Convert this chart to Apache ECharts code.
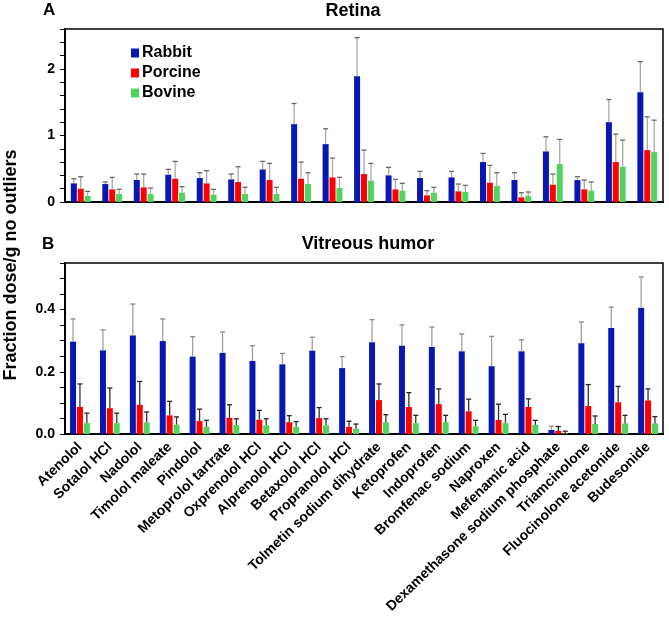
<!DOCTYPE html>
<html lang="en">
<head>
    <meta charset="UTF-8">
    <title>Retina / Vitreous humor</title>
    <script src="https://cdn.jsdelivr.net/npm/echarts@6.0.0/dist/echarts.min.js"></script>
    <style>
        html, body { margin: 0; padding: 0; background: #fff; }
        #container { width: 669px; height: 617px; }
    </style>
</head>
<body>
<div id="container"></div>

<script type="text/javascript">
    // categories of panel B (vitreous humor), shown as x labels
    var drugs = ['Atenolol', 'Sotalol HCl', 'Nadolol', 'Timolol maleate', 'Pindolol',
        'Metoprolol tartrate', 'Oxprenolol HCl', 'Alprenolol HCl', 'Betaxolol HCl', 'Propranolol HCl',
        'Tolmetin sodium dihydrate', 'Ketoprofen', 'Indoprofen', 'Bromfenac sodium', 'Naproxen',
        'Mefenamic acid', 'Dexamethasone sodium phosphate', 'Triamcinolone', 'Fluocinolone acetonide', 'Budesonide'];

    // panel A (retina) only has 19 groups, no labels drawn
    var retinaDrugs = ['Atenolol', 'Sotalol HCl', 'Nadolol', 'Timolol maleate', 'Pindolol',
        'Metoprolol tartrate', 'Oxprenolol HCl', 'Alprenolol HCl', 'Betaxolol HCl', 'Propranolol HCl',
        'Tolmetin sodium dihydrate', 'Ketoprofen', 'Indoprofen', 'Bromfenac sodium', 'Naproxen',
        'Mefenamic acid', 'Triamcinolone', 'Fluocinolone acetonide', 'Budesonide'];

    var speciesNames = ['Rabbit', 'Porcine', 'Bovine'];

    // retina: mean and top of error bar
    var retinaRabbit = [0.28, 0.27, 0.33, 0.41, 0.36, 0.34, 0.49, 1.17, 0.87, 1.89, 0.40, 0.36, 0.37, 0.60, 0.33, 0.76, 0.33, 1.20, 1.65];
    var retinaRabbitErr = [0.35, 0.30, 0.42, 0.49, 0.44, 0.42, 0.61, 1.48, 1.10, 2.47, 0.52, 0.46, 0.46, 0.73, 0.44, 0.98, 0.38, 1.54, 2.11];
    var retinaPorcine = [0.20, 0.19, 0.22, 0.35, 0.28, 0.30, 0.33, 0.35, 0.37, 0.42, 0.19, 0.10, 0.16, 0.29, 0.07, 0.26, 0.19, 0.60, 0.78];
    var retinaPorcineErr = [0.38, 0.37, 0.42, 0.61, 0.47, 0.53, 0.58, 0.60, 0.66, 0.78, 0.34, 0.17, 0.27, 0.55, 0.14, 0.42, 0.33, 1.02, 1.28];
    var retinaBovine = [0.09, 0.12, 0.12, 0.14, 0.11, 0.12, 0.12, 0.27, 0.21, 0.32, 0.17, 0.14, 0.15, 0.24, 0.09, 0.57, 0.17, 0.53, 0.75];
    var retinaBovineErr = [0.16, 0.19, 0.21, 0.23, 0.19, 0.22, 0.22, 0.44, 0.37, 0.58, 0.28, 0.22, 0.25, 0.44, 0.15, 0.94, 0.30, 0.93, 1.23];

    // vitreous humor
    var vitRabbit = [0.297, 0.269, 0.317, 0.299, 0.249, 0.261, 0.235, 0.224, 0.268, 0.212, 0.295, 0.284, 0.280, 0.266, 0.218, 0.266, 0.013, 0.292, 0.341, 0.406];
    var vitRabbitErr = [0.370, 0.335, 0.418, 0.370, 0.313, 0.328, 0.284, 0.259, 0.311, 0.249, 0.368, 0.351, 0.344, 0.322, 0.314, 0.303, 0.025, 0.360, 0.408, 0.505];
    var vitPorcine = [0.087, 0.083, 0.094, 0.060, 0.042, 0.052, 0.046, 0.038, 0.051, 0.023, 0.109, 0.087, 0.096, 0.073, 0.045, 0.087, 0.010, 0.090, 0.102, 0.108];
    var vitPorcineErr = [0.161, 0.148, 0.169, 0.105, 0.080, 0.094, 0.076, 0.059, 0.085, 0.041, 0.161, 0.133, 0.145, 0.112, 0.096, 0.113, 0.024, 0.159, 0.153, 0.145];
    var vitBovine = [0.035, 0.035, 0.037, 0.030, 0.023, 0.029, 0.028, 0.023, 0.028, 0.017, 0.038, 0.035, 0.038, 0.025, 0.035, 0.030, 0.002, 0.032, 0.034, 0.034];
    var vitBovineErr = [0.067, 0.067, 0.071, 0.055, 0.044, 0.049, 0.049, 0.040, 0.049, 0.032, 0.062, 0.060, 0.060, 0.044, 0.063, 0.044, 0.009, 0.058, 0.060, 0.056];

    var colors = ['#0a16b2', '#ff0000', '#4fd45f'];
    var font = 'Liberation Sans, Arial, sans-serif';
    var barW = 6;
    var gapPx = 0.9;

    var chart = echarts.init(document.getElementById('container'), null, {renderer: 'canvas'});

    function errData(vals, tops) {
        var out = [];
        for (var i = 0; i < vals.length; i++) {
            out.push([i, vals[i], tops[i]]);
        }
        return out;
    }

    // error bar: line from bar top up to tops[i], with a small cap
    function errSeries(name, grid, k, vals, tops, lineColor, capColor) {
        return {
            name: name,
            type: 'custom',
            xAxisIndex: grid,
            yAxisIndex: grid,
            z: 5,
            data: errData(vals, tops),
            renderItem: function (params, api) {
                var p0 = api.coord([api.value(0), api.value(1)]);
                var p1 = api.coord([api.value(0), api.value(2)]);
                var cx = p0[0] + (k - 1) * (barW + gapPx);
                return {
                    type: 'group',
                    children: [{
                        type: 'line',
                        shape: {x1: cx, y1: p0[1], x2: cx, y2: p1[1]},
                        style: {stroke: lineColor, lineWidth: 1.3}
                    }, {
                        type: 'line',
                        shape: {x1: cx - 2.5, y1: p1[1], x2: cx + 2.5, y2: p1[1]},
                        style: {stroke: capColor, lineWidth: 1.3}
                    }]
                };
            }
        };
    }

    function barSeries(name, grid, k, vals) {
        return {
            name: name,
            type: 'bar',
            xAxisIndex: grid,
            yAxisIndex: grid,
            data: vals,
            barWidth: barW,
            barGap: '15%',
            itemStyle: {color: colors[k]}
        };
    }

    var labelStyle = {color: '#000', fontFamily: font, fontWeight: 'bold', fontSize: 14};

    var option = {
        animation: false,
        backgroundColor: '#fff',
        textStyle: {fontFamily: font},
        legend: {
            data: speciesNames,
            orient: 'vertical',
            left: 126,
            top: 40,
            itemWidth: 8,
            itemHeight: 9,
            itemGap: 4,
            icon: 'rect',
            textStyle: {color: '#000', fontFamily: font, fontWeight: 'bold', fontSize: 16, padding: [0, 0, 0, -2]}
        },
        grid: [
            {left: 65, right: 6, top: 29, height: 173, show: true, borderColor: '#000', borderWidth: 1.5},
            {left: 65, right: 6, top: 263, height: 171, show: true, borderColor: '#000', borderWidth: 1.5}
        ],
        xAxis: [{
            type: 'category',
            gridIndex: 0,
            data: retinaDrugs,
            axisLine: {lineStyle: {color: '#000', width: 2}},
            axisTick: {show: false},
            axisLabel: {show: false}
        }, {
            type: 'category',
            gridIndex: 1,
            data: drugs,
            axisLine: {lineStyle: {color: '#000', width: 2}},
            axisTick: {show: false},
            axisLabel: {
                interval: 0,
                rotate: 44,
                margin: 11,
                color: '#000',
                fontFamily: font,
                fontWeight: 'bold',
                fontSize: 14
            }
        }],
        yAxis: [{
            type: 'value',
            gridIndex: 0,
            min: 0,
            max: 2.6,
            interval: 0.2,
            splitLine: {show: false},
            axisLine: {show: true, lineStyle: {color: '#000', width: 2}},
            axisTick: {show: true, length: 5, lineStyle: {color: '#000'}},
            axisLabel: Object.assign({
                margin: 10,
                formatter: function (v) {
                    return Math.abs(v - Math.round(v)) < 1e-6 ? String(Math.round(v)) : '';
                }
            }, labelStyle)
        }, {
            type: 'value',
            gridIndex: 1,
            min: 0,
            max: 0.55,
            interval: 0.05,
            splitLine: {show: false},
            axisLine: {show: true, lineStyle: {color: '#000', width: 2}},
            axisTick: {show: true, length: 5, lineStyle: {color: '#000'}},
            axisLabel: Object.assign({
                margin: 10,
                formatter: function (v) {
                    return Math.abs(v * 5 - Math.round(v * 5)) < 1e-6 ? v.toFixed(1) : '';
                }
            }, labelStyle)
        }],
        graphic: [
            {type: 'text', left: 43, top: 2, style: {text: 'A', font: 'bold 17px ' + font, fill: '#000'}},
            {type: 'text', x: 353, y: 11, style: {text: 'Retina', font: 'bold 18px ' + font, fill: '#000', textAlign: 'center', textVerticalAlign: 'middle'}},
            {type: 'text', left: 42, top: 236, style: {text: 'B', font: 'bold 17px ' + font, fill: '#000'}},
            {type: 'text', x: 368, y: 244, style: {text: 'Vitreous humor', font: 'bold 18px ' + font, fill: '#000', textAlign: 'center', textVerticalAlign: 'middle'}},
            {type: 'text', x: 11, y: 265, rotation: Math.PI / 2,
                style: {text: 'Fraction dose/g no outliers', font: 'bold 18px ' + font, fill: '#000', textAlign: 'center', textVerticalAlign: 'middle'}}
        ],
        series: [
            barSeries('Rabbit', 0, 0, retinaRabbit),
            barSeries('Porcine', 0, 1, retinaPorcine),
            barSeries('Bovine', 0, 2, retinaBovine),
            barSeries('Rabbit', 1, 0, vitRabbit),
            barSeries('Porcine', 1, 1, vitPorcine),
            barSeries('Bovine', 1, 2, vitBovine),
            errSeries('Rabbit', 0, 0, retinaRabbit, retinaRabbitErr, '#a8a8a8', '#666'),
            errSeries('Porcine', 0, 1, retinaPorcine, retinaPorcineErr, '#a8a8a8', '#666'),
            errSeries('Bovine', 0, 2, retinaBovine, retinaBovineErr, '#a8a8a8', '#666'),
            errSeries('Rabbit', 1, 0, vitRabbit, vitRabbitErr, '#a0a0a0', '#888'),
            errSeries('Porcine', 1, 1, vitPorcine, vitPorcineErr, '#333', '#222'),
            errSeries('Bovine', 1, 2, vitBovine, vitBovineErr, '#333', '#222')
        ]
    };

    chart.setOption(option);
</script>
</body>
</html>
